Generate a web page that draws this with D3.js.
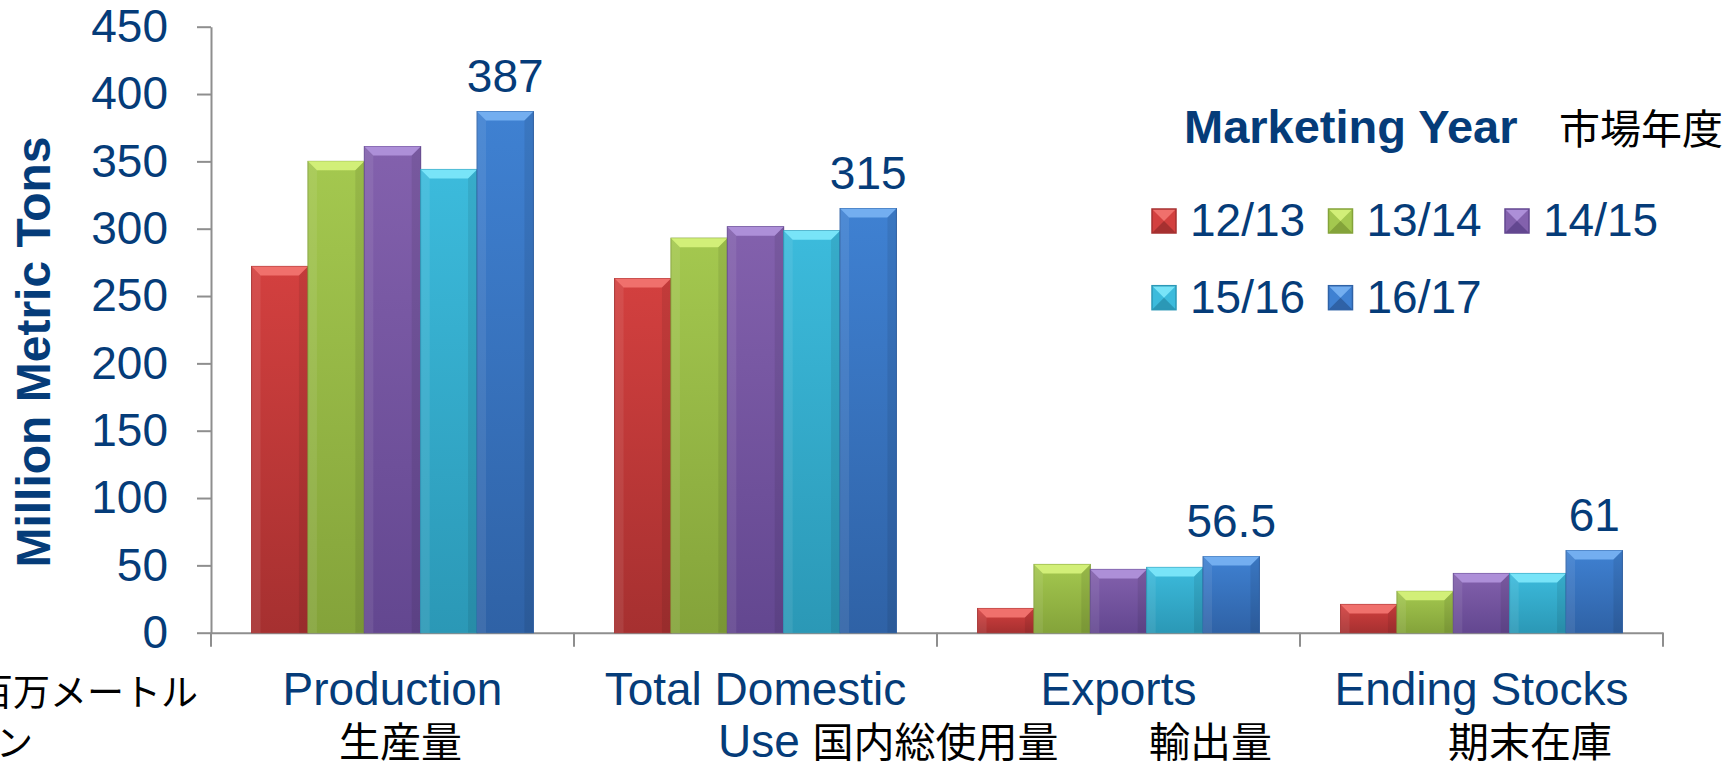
<!DOCTYPE html>
<html lang="en">
<head>
<meta charset="UTF-8">
<script src="https://d3js.org/d3.v7.min.js"></script>
<title>Marketing Year</title>
<style>
  body { margin: 0; background: #fff; }
  svg { display: block; }
  text { font-family: "Liberation Sans", Arial, sans-serif; }
  .ja { font-family: "Noto Sans CJK JP", sans-serif; fill: #000; }
</style>
</head>
<body>
<svg width="1735" height="765"></svg>
<script>
// data
const categories = ["Production", "Total Domestic", "Exports", "Ending Stocks"];
const line2En = ["", "Use", "", ""];
const line2Ja = ["生産量", "国内総使用量", "輸出量", "期末在庫"];
const years = ["12/13", "13/14", "14/15", "15/16", "16/17"];
const production = [272, 350, 361, 344, 387];
const domesticUse = [263, 293, 301.5, 298.5, 315];
const exportsVals = [18, 50.7, 47, 48.5, 56.5];
const endingStocks = [21, 30.7, 44, 44, 61];
const valueLabels = ["387", "315", "56.5", "61"];
const yTicks = [0, 50, 100, 150, 200, 250, 300, 350, 400, 450];

const navy = "#053c79";
const colors = ["#d3403f", "#a4c84f", "#8361ad", "#3cbbdc", "#3f81d2"];
const darks = ["#a63030", "#84a33a", "#634790", "#2b98b6", "#2f62a6"];
const lights = ["#f0706c", "#d2ef78", "#ad8fd8", "#78e4f8", "#73aef0"];

const rows = [production, domesticUse, exportsVals, endingStocks];

const svg = d3.select("svg");

const y = d3.scaleLinear().domain([0, 450]).range([632.7, 26.7]);
const x0 = d3.scaleBand().domain(categories).range([211, 1663]).padding(0);
const x1 = d3.scaleBand().domain(years).range([0, x0.bandwidth()])
    .paddingInner(0).paddingOuter(0.72);

// gradients
const defs = svg.append("defs");
years.forEach((yr, j) => {
    const g = defs.append("linearGradient").attr("id", "g" + j)
        .attr("x1", 0).attr("y1", 0).attr("x2", 0).attr("y2", 1);
    g.append("stop").attr("offset", "0%").attr("stop-color", colors[j]);
    g.append("stop").attr("offset", "100%").attr("stop-color", darks[j]);
});

// axes
const yAxis = svg.append("g")
    .attr("transform", "translate(211,0)")
    .call(d3.axisLeft(y).tickValues(yTicks).tickSize(14).tickSizeOuter(0).tickPadding(29));
yAxis.selectAll("text").attr("font-size", 46).attr("fill", navy)
    .attr("font-family", "Liberation Sans, Arial, sans-serif");

const xAxis = svg.append("g")
    .attr("transform", "translate(0,632.7)")
    .call(d3.axisBottom(x0).tickSize(0).tickSizeOuter(0).tickFormat(""));
xAxis.selectAll(".tick").remove();
const bounds = categories.map(c => x0(c)).concat([x0.range()[1]]);
xAxis.selectAll("line.bound").data(bounds).enter().append("line")
    .attr("class", "bound")
    .attr("x1", d => d).attr("x2", d => d)
    .attr("y1", 0).attr("y2", 14);

svg.selectAll(".domain, .tick line, line.bound")
    .attr("stroke", "#8e8e8e").attr("stroke-width", 2);

// bars
const b = 9;
categories.forEach((cat, i) => {
    const g = svg.append("g").attr("transform", "translate(" + x0(cat) + ",0)");
    const bars = g.selectAll("g.bar").data(rows[i]).enter().append("g").attr("class", "bar");
    bars.append("rect")
        .attr("x", (d, j) => x1(years[j]))
        .attr("y", d => y(d))
        .attr("width", x1.bandwidth())
        .attr("height", d => y(0) - y(d))
        .attr("fill", (d, j) => "url(#g" + j + ")")
        .attr("stroke", (d, j) => darks[j])
        .attr("stroke-width", 1);
    // top bevel
    bars.append("path")
        .attr("d", (d, j) => {
            const xl = x1(years[j]), xr = xl + x1.bandwidth(), t = y(d);
            const bb = Math.min(b, (y(0) - t) / 2);
            return "M" + xl + "," + t + "L" + xr + "," + t + "L" + (xr - bb) + "," + (t + bb) +
                "L" + (xl + bb) + "," + (t + bb) + "Z";
        })
        .attr("fill", (d, j) => lights[j]);
    // side bevels
    bars.append("path")
        .attr("d", (d, j) => {
            const xl = x1(years[j]), t = y(d), bb = Math.min(b, (y(0) - t) / 2);
            return "M" + xl + "," + t + "L" + (xl + bb) + "," + (t + bb) + "L" + (xl + bb) + "," + y(0) + "L" + xl + "," + y(0) + "Z";
        })
        .attr("fill", "#fff").attr("opacity", 0.08);
    bars.append("path")
        .attr("d", (d, j) => {
            const xr = x1(years[j]) + x1.bandwidth(), t = y(d), bb = Math.min(b, (y(0) - t) / 2);
            return "M" + xr + "," + t + "L" + (xr - bb) + "," + (t + bb) + "L" + (xr - bb) + "," + y(0) + "L" + xr + "," + y(0) + "Z";
        })
        .attr("fill", "#000").attr("opacity", 0.08);

    // value label on last bar
    const last = years[years.length - 1];
    g.append("text")
        .attr("x", x1(last) + x1.bandwidth() / 2)
        .attr("y", y(rows[i][rows[i].length - 1]) - 20)
        .attr("text-anchor", "middle")
        .attr("font-size", 46).attr("fill", navy)
        .text(valueLabels[i]);
});

// category labels
const line2Dx = [128, 144, 212, 148];
categories.forEach((cat, i) => {
    svg.append("text")
        .attr("x", x0(cat) + x0.bandwidth() / 2).attr("y", 705)
        .attr("text-anchor", "middle").attr("font-size", 46).attr("fill", navy)
        .text(cat);
    const t = svg.append("text")
        .attr("x", x0(cat) + line2Dx[i]).attr("y", 757)
        .attr("font-size", 46).attr("fill", navy);
    if (line2En[i]) t.append("tspan").text(line2En[i] + " ");
    t.append("tspan").attr("class", "ja").attr("font-size", 41).text(line2Ja[i]);
});

// unit label (Japanese)
svg.append("text").attr("class", "ja").attr("x", 198).attr("y", 706)
    .attr("text-anchor", "end").attr("font-size", 37).text("百万メートル");
svg.append("text").attr("class", "ja").attr("x", 33).attr("y", 757)
    .attr("text-anchor", "end").attr("font-size", 37).text("トン");

// y title
svg.append("text")
    .attr("transform", "translate(50,352) rotate(-90)")
    .attr("text-anchor", "middle")
    .attr("font-size", 48).attr("font-weight", "bold").attr("fill", navy)
    .text("Million Metric Tons");

// legend
svg.append("text").attr("x", 1184).attr("y", 142.7)
    .attr("font-size", 47).attr("font-weight", "bold").attr("fill", navy)
    .text("Marketing Year");
svg.append("text").attr("class", "ja").attr("x", 1559).attr("y", 144)
    .attr("font-size", 41).text("市場年度");

const leg = svg.selectAll("g.leg").data(years).enter().append("g")
    .attr("class", "leg")
    .attr("transform", (d, j) => "translate(" + (1152 + (j % 3) * 176.5) + "," + (209 + Math.floor(j / 3) * 76.7) + ")");
const s = 24, c = 12;
leg.append("rect").attr("width", s).attr("height", s).attr("fill", (d, j) => colors[j]);
leg.append("path").attr("d", "M0,0L" + s + ",0L" + c + "," + c + "Z").attr("fill", (d, j) => lights[j]);
leg.append("path").attr("d", "M0," + s + "L" + s + "," + s + "L" + c + "," + c + "Z").attr("fill", (d, j) => darks[j]);
leg.append("rect").attr("width", s).attr("height", s).attr("fill", "none")
    .attr("stroke", (d, j) => darks[j]).attr("stroke-width", 1.5);
leg.append("text").attr("x", 38).attr("y", 27)
    .attr("font-size", 46).attr("fill", navy).text(d => d);
</script>
</body>
</html>
